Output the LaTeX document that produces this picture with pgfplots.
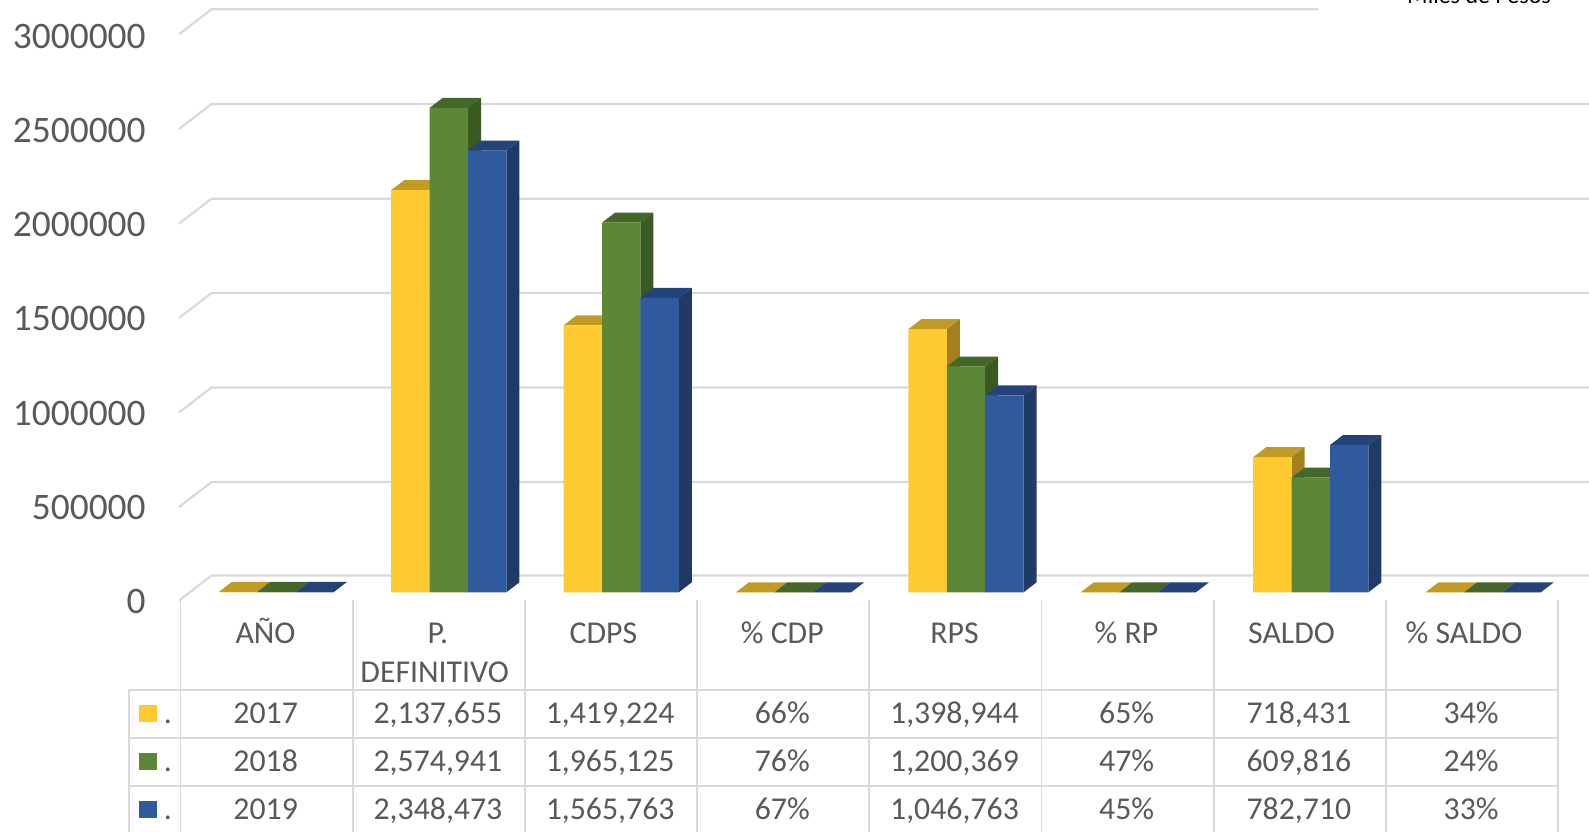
\documentclass[border=0pt]{standalone}
\usepackage{fontspec}
\setmainfont{Carlito}
\usepackage{pgfplots}
\pgfplotsset{compat=1.18}
\definecolor{gridc}{HTML}{D9D9D9}
\definecolor{txt}{HTML}{595959}
\definecolor{yF}{HTML}{FFCA2F}\definecolor{yT}{HTML}{C29B24}\definecolor{yS}{HTML}{A47F1D}
\definecolor{gF}{HTML}{5B8736}\definecolor{gT}{HTML}{44672A}\definecolor{gS}{HTML}{3B5A22}
\definecolor{bF}{HTML}{2F5A9E}\definecolor{bT}{HTML}{244378}\definecolor{bS}{HTML}{1F3A66}
\pgfplotsset{
  base/.style={scale only axis,width=794.5pt,height=416pt,at={(0,0)},anchor=south west,
    xmin=0,xmax=1589,axis line style={draw=none},tick style={draw=none},clip=false},
  gl/.style={draw=gridc,line width=1.1pt,forget plot},
  tl/.style={draw=gridc,line width=0.9pt,forget plot},
}
\newcommand\cell[3]{\node[anchor=base,text=txt,font=\fontsize{15.9}{17}\selectfont,inner sep=0pt] at (axis cs:#1,#2) {#3};}
\begin{document}
\begin{tikzpicture}
\clip (0,0) rectangle (794.5pt,416pt);
% --- walls, table lines and table text, in picture pixels
\begin{axis}[base,ymin=0,ymax=832,y dir=reverse,xtick=\empty,ytick=\empty]
\addplot[gl] coordinates {(179,34.3)(211.5,9.3)(1318,9.3)};
\addplot[gl] coordinates {(179,129)(211.5,104)(1589,104)};
\addplot[gl] coordinates {(179,223.7)(211.5,198.7)(1589,198.7)};
\addplot[gl] coordinates {(179,318)(211.5,293)(1589,293)};
\addplot[gl] coordinates {(179,412.5)(211.5,387.5)(1589,387.5)};
\addplot[gl] coordinates {(179,507)(211.5,482)(1589,482)};
\addplot[gl] coordinates {(179,600.5)(211.5,575.5)(1589,575.5)};
\addplot[tl] coordinates {(128.7,689.7)(1558,689.7)};
\addplot[tl] coordinates {(128.7,737.7)(1558,737.7)};
\addplot[tl] coordinates {(128.7,785.7)(1558,785.7)};
\addplot[tl] coordinates {(128.7,689.7)(128.7,832)};
\addplot[tl] coordinates {(180.4,600)(180.4,832)};
\addplot[tl] coordinates {(352.6,600)(352.6,832)};
\addplot[tl] coordinates {(524.8,600)(524.8,832)};
\addplot[tl] coordinates {(697,600)(697,832)};
\addplot[tl] coordinates {(869.2,600)(869.2,832)};
\addplot[tl] coordinates {(1041.4,600)(1041.4,832)};
\addplot[tl] coordinates {(1213.6,600)(1213.6,832)};
\addplot[tl] coordinates {(1385.8,600)(1385.8,832)};
\addplot[tl] coordinates {(1558,600)(1558,832)};
% legend keys
\addplot[fill=yF,draw=none,forget plot] coordinates {(139,704.5)(157,704.5)(157,722)(139,722)} -- cycle;
\addplot[fill=gF,draw=none,forget plot] coordinates {(139,752.5)(157,752.5)(157,770)(139,770)} -- cycle;
\addplot[fill=bF,draw=none,forget plot] coordinates {(139,800.5)(157,800.5)(157,818)(139,818)} -- cycle;
\cell{168}{723.9}{.}\cell{168}{771.9}{.}\cell{168}{819.9}{.}
% headers
\cell{265.5}{643}{AÑO}
\cell{437.8}{643}{P.}
\cell{434.7}{682}{DEFINITIVO}
\cell{603.5}{643}{CDPS}
\cell{782.3}{643}{\% CDP}
\cell{954.6}{643}{RPS}
\cell{1126.5}{643}{\% RP}
\cell{1291.5}{643}{SALDO}
\cell{1464}{643}{\% SALDO}
% rows
\cell{265.7}{723.9}{2017}\cell{437.9}{723.9}{2,137,655}\cell{610.1}{723.9}{1,419,224}\cell{782.3}{723.9}{66\%}\cell{954.5}{723.9}{1,398,944}\cell{1126.7}{723.9}{65\%}\cell{1298.9}{723.9}{718,431}\cell{1471.1}{723.9}{34\%}
\cell{265.7}{771.9}{2018}\cell{437.9}{771.9}{2,574,941}\cell{610.1}{771.9}{1,965,125}\cell{782.3}{771.9}{76\%}\cell{954.5}{771.9}{1,200,369}\cell{1126.7}{771.9}{47\%}\cell{1298.9}{771.9}{609,816}\cell{1471.1}{771.9}{24\%}
\cell{265.7}{819.9}{2019}\cell{437.9}{819.9}{2,348,473}\cell{610.1}{819.9}{1,565,763}\cell{782.3}{819.9}{67\%}\cell{954.5}{819.9}{1,046,763}\cell{1126.7}{819.9}{45\%}\cell{1298.9}{819.9}{782,710}\cell{1471.1}{819.9}{33\%}
\node[anchor=base,text=black,font=\fontsize{12}{14}\selectfont,inner sep=0pt] at (axis cs:1479,3) {Miles de Pesos};
\end{axis}
% --- bars, on the value scale
\begin{axis}[base,ymin=-1274245,ymax=3148667,xtick=\empty,
  unbounded coords=jump,
  ytick={0,500000,1000000,1500000,2000000,2500000,3000000},
  yticklabels={0,500000,1000000,1500000,2000000,2500000,3000000},
  yticklabel style={anchor=east,xshift=73pt,yshift=-4.4pt,text=txt,font=\fontsize{18.7}{20}\selectfont,inner sep=0pt},
  bar/.style={ybar,bar width=19.2pt,bar shift=0pt,draw=none,forget plot}]
% 2017
\addplot[fill=yT,draw=none,forget plot] coordinates {
 (218.8,2017)(231.8,55177)(270.2,55177)(257.2,2017)(nan,nan)
 (391.2,2137655)(404.2,2190815)(442.6,2190815)(429.6,2137655)(nan,nan)
 (563.6,1419224)(576.6,1472384)(615,1472384)(602,1419224)(nan,nan)
 (736,0.66)(749,53161)(787.4,53161)(774.4,0.66)(nan,nan)
 (908.4,1398944)(921.4,1452104)(959.8,1452104)(946.8,1398944)(nan,nan)
 (1080.8,0.65)(1093.8,53161)(1132.2,53161)(1119.2,0.65)(nan,nan)
 (1253.2,718431)(1266.2,771591)(1304.6,771591)(1291.6,718431)(nan,nan)
 (1425.6,0.34)(1438.6,53160)(1477,53160)(1464,0.34)};
\addplot[fill=yS,draw=none,forget plot] coordinates {
 (429.6,0)(442.6,53160)(442.6,2190815)(429.6,2137655)(nan,nan)
 (602,0)(615,53160)(615,1472384)(602,1419224)(nan,nan)
 (946.8,0)(959.8,53160)(959.8,1452104)(946.8,1398944)(nan,nan)
 (1291.6,0)(1304.6,53160)(1304.6,771591)(1291.6,718431)};
\addplot[bar,fill=yF] coordinates {(238,2017)(410.4,2137655)(582.8,1419224)(755.2,0.66)(927.6,1398944)(1100,0.65)(1272.4,718431)(1444.8,0.34)};
% 2018
\addplot[fill=gT,draw=none,forget plot] coordinates {
 (257.2,2018)(270.2,55178)(308.6,55178)(295.6,2018)(nan,nan)
 (429.6,2574941)(442.6,2628101)(481,2628101)(468,2574941)(nan,nan)
 (602,1965125)(615,2018285)(653.4,2018285)(640.4,1965125)(nan,nan)
 (774.4,0.76)(787.4,53161)(825.8,53161)(812.8,0.76)(nan,nan)
 (946.8,1200369)(959.8,1253529)(998.2,1253529)(985.2,1200369)(nan,nan)
 (1119.2,0.47)(1132.2,53160)(1170.6,53160)(1157.6,0.47)(nan,nan)
 (1291.6,609816)(1304.6,662976)(1343,662976)(1330,609816)(nan,nan)
 (1464,0.24)(1477,53160)(1515.4,53160)(1502.4,0.24)};
\addplot[fill=gS,draw=none,forget plot] coordinates {
 (468,0)(481,53160)(481,2628101)(468,2574941)(nan,nan)
 (640.4,0)(653.4,53160)(653.4,2018285)(640.4,1965125)(nan,nan)
 (985.2,0)(998.2,53160)(998.2,1253529)(985.2,1200369)(nan,nan)
 (1330,0)(1343,53160)(1343,662976)(1330,609816)};
\addplot[bar,fill=gF] coordinates {(276.4,2018)(448.8,2574941)(621.2,1965125)(793.6,0.76)(966,1200369)(1138.4,0.47)(1310.8,609816)(1483.2,0.24)};
% 2019
\addplot[fill=bT,draw=none,forget plot] coordinates {
 (295.6,2019)(308.6,55179)(347,55179)(334,2019)(nan,nan)
 (468,2348473)(481,2401633)(519.4,2401633)(506.4,2348473)(nan,nan)
 (640.4,1565763)(653.4,1618923)(691.8,1618923)(678.8,1565763)(nan,nan)
 (812.8,0.67)(825.8,53161)(864.2,53161)(851.2,0.67)(nan,nan)
 (985.2,1046763)(998.2,1099923)(1036.6,1099923)(1023.6,1046763)(nan,nan)
 (1157.6,0.45)(1170.6,53160)(1209,53160)(1196,0.45)(nan,nan)
 (1330,782710)(1343,835870)(1381.4,835870)(1368.4,782710)(nan,nan)
 (1502.4,0.33)(1515.4,53160)(1553.8,53160)(1540.8,0.33)};
\addplot[fill=bS,draw=none,forget plot] coordinates {
 (506.4,0)(519.4,53160)(519.4,2401633)(506.4,2348473)(nan,nan)
 (678.8,0)(691.8,53160)(691.8,1618923)(678.8,1565763)(nan,nan)
 (1023.6,0)(1036.6,53160)(1036.6,1099923)(1023.6,1046763)(nan,nan)
 (1368.4,0)(1381.4,53160)(1381.4,835870)(1368.4,782710)};
\addplot[bar,fill=bF] coordinates {(314.8,2019)(487.2,2348473)(659.6,1565763)(832,0.67)(1004.4,1046763)(1176.8,0.45)(1349.2,782710)(1521.6,0.33)};
\end{axis}
\end{tikzpicture}
\end{document}
